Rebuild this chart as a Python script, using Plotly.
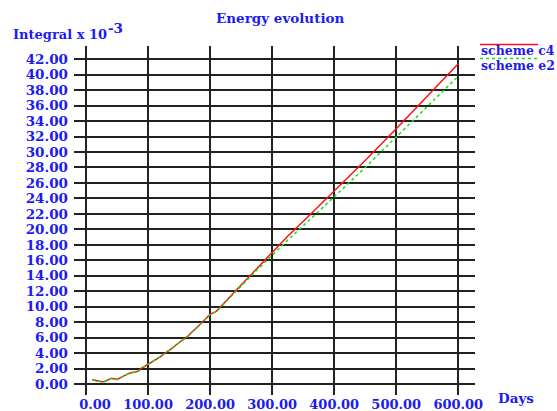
import plotly.graph_objects as go

# Time axis (days) and the two energy integrals (x 10^-3)
days = [10, 15, 20, 25, 30, 35, 40, 45, 50, 55, 60, 65, 70, 75, 80, 85, 90, 95,
        100, 105, 110, 115, 120, 125, 130, 135, 140, 145, 150, 155, 160, 165, 170,
        175, 180, 185, 190, 195, 200, 210, 220, 230, 240, 250, 275, 300, 325, 350,
        375, 400, 450, 500, 550, 600]

scheme_c4 = [0.55, 0.45, 0.35, 0.30, 0.32, 0.50, 0.72, 0.68, 0.60, 0.80, 1.00, 1.25,
             1.40, 1.50, 1.55, 1.70, 2.10, 2.30, 2.55, 2.75, 2.95, 3.20, 3.55, 3.85,
             4.10, 4.35, 4.70, 5.05, 5.35, 5.60, 5.90, 6.25, 6.65, 7.00, 7.40, 7.80,
             8.20, 8.60, 9.00, 9.40, 10.30, 11.10, 11.95, 12.80, 14.90, 17.00, 19.10,
             21.00, 22.95, 24.90, 28.90, 33.00, 37.20, 41.40]

scheme_e2 = [0.55, 0.45, 0.35, 0.30, 0.32, 0.50, 0.72, 0.68, 0.60, 0.80, 1.00, 1.25,
             1.40, 1.50, 1.55, 1.70, 2.10, 2.30, 2.55, 2.75, 2.95, 3.20, 3.55, 3.85,
             4.10, 4.35, 4.70, 5.05, 5.35, 5.60, 5.90, 6.25, 6.65, 7.00, 7.40, 7.80,
             8.20, 8.60, 9.00, 9.35, 10.20, 11.00, 11.85, 12.65, 14.70, 16.70, 18.60,
             20.45, 22.30, 24.20, 28.00, 31.90, 35.80, 39.80]

x_ticks = [0, 100, 200, 300, 400, 500, 600]
# right-aligned labels: pad with digit-width spaces
x_ticklabels = ["\u2007\u20070.00", "100.00", "200.00", "300.00", "400.00", "500.00", "600.00"]
y_ticks = list(range(0, 44, 2))
y_ticklabels = [f"{v:.2f}" for v in y_ticks]

BLUE = "#1c1cf0"
FONT = "DejaVu Serif"

W, H = 557, 411
ML, MR, MT, MB = 74, 82, 46, 16
PW, PH = W - ML - MR, H - MT - MB

fig = go.Figure()
fig.add_trace(go.Scatter(x=days, y=scheme_c4, mode="lines", name="scheme c4",
                         line=dict(color="#ff1010", width=1.5)))
fig.add_trace(go.Scatter(x=days, y=scheme_e2, mode="lines", name="scheme e2",
                         line=dict(color="#10e010", width=1.5, dash="dot")))

axis_common = dict(showgrid=True, gridcolor="#222222", gridwidth=1.5, zeroline=False,
                   showline=False, ticks="", automargin=False)

fig.update_xaxes(range=[-19.4, 627], tickvals=x_ticks, ticktext=x_ticklabels,
                 ticklabelstandoff=0,
                 tickfont=dict(family=FONT, size=13, color=BLUE, weight="bold"),
                 **axis_common)
fig.update_yaxes(range=[-1.42, 43.7], tickvals=y_ticks, ticktext=y_ticklabels,
                 ticklabelstandoff=5,
                 tickfont=dict(family=FONT, size=13.5, color=BLUE, weight="bold"),
                 **axis_common)


def px_x(px):
    return (px - ML) / PW


def px_y(py):
    return (H - MB - py) / PH


labels = [
    dict(text="Energy evolution", x=280, y=18, size=13.5),
    dict(text="Integral x 10", x=11, y=34, xanchor="left", size=13),
    dict(text="-3", x=106, y=28, xanchor="left", size=13.5),
    dict(text="Days", x=496, y=398, xanchor="left", size=13.5),
    dict(text="scheme c4", x=479, y=51, xanchor="left", size=12.5),
    dict(text="scheme e2", x=479, y=65, xanchor="left", size=12.5),
]
anns = []
for a in labels:
    anns.append(dict(text=a["text"], x=px_x(a["x"]), y=px_y(a["y"]), xref="paper", yref="paper",
                     xanchor=a.get("xanchor", "center"), yanchor="middle", showarrow=False,
                     font=dict(family=FONT, size=a["size"], color=BLUE, weight="bold")))

# legend sample lines above the labels
shapes = [
    dict(type="line", xref="paper", yref="paper", x0=px_x(480), x1=px_x(538),
         y0=px_y(44.5), y1=px_y(44.5), line=dict(color="#ff1010", width=1.5)),
    dict(type="line", xref="paper", yref="paper", x0=px_x(480), x1=px_x(538),
         y0=px_y(58.5), y1=px_y(58.5), line=dict(color="#10e010", width=1.5, dash="dot")),
]

fig.update_layout(
    width=W, height=H,
    margin=dict(l=ML, r=MR, t=MT, b=MB),
    paper_bgcolor="white", plot_bgcolor="white",
    showlegend=False,
    annotations=anns, shapes=shapes,
)

fig.write_html("out.html")
